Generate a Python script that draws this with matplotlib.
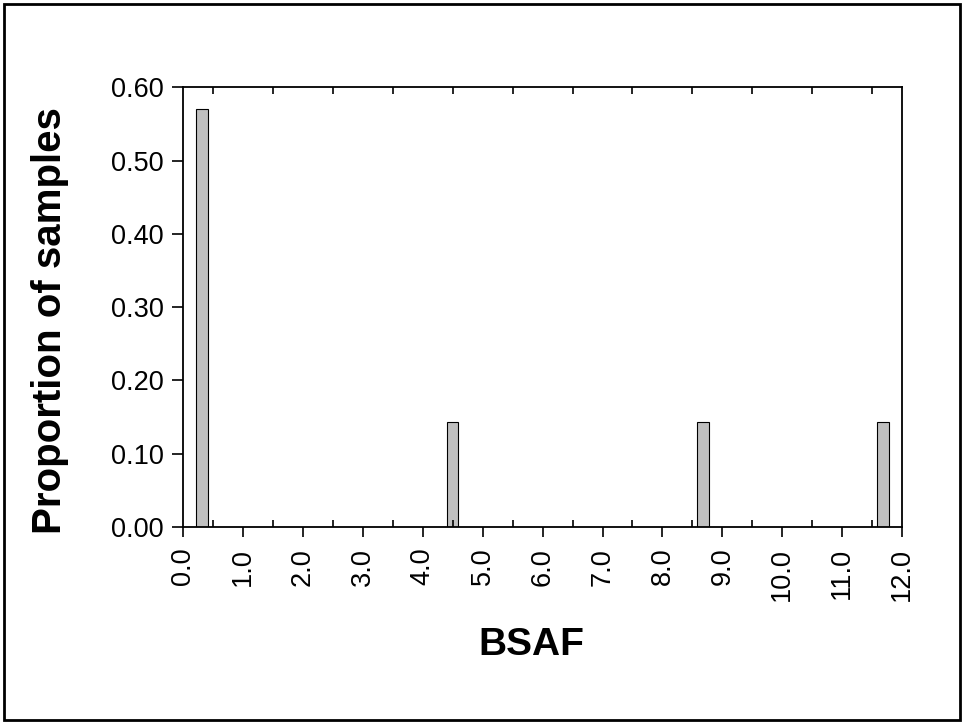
import matplotlib
matplotlib.use('Agg')
import matplotlib.pyplot as plt
from matplotlib.patches import Rectangle
from matplotlib.ticker import MultipleLocator, FormatStrFormatter

plt.rcParams['font.family'] = ['Liberation Sans', 'DejaVu Sans']

# histogram bars
bsaf_centers = [0.31, 4.49, 8.68, 11.68]
proportions = [0.571, 0.143, 0.143, 0.143]
bar_width = 0.19

x_ticks = [0.0, 1.0, 2.0, 3.0, 4.0, 5.0, 6.0, 7.0, 8.0, 9.0, 10.0, 11.0, 12.0]
y_ticks = [0.0, 0.1, 0.2, 0.3, 0.4, 0.5, 0.6]

fig = plt.figure(figsize=(9.63, 7.23), dpi=100)
fig.patch.set_facecolor('white')
ax = fig.add_axes([0.1903, 0.2711, 0.7464, 0.6079])

ax.bar(bsaf_centers, proportions, width=bar_width, color='#C0C0C0',
       edgecolor='black', linewidth=0.8)

ax.set_xlim(0, 12)
ax.set_ylim(0, 0.6)
ax.set_xticks(x_ticks)
ax.set_yticks(y_ticks)
ax.xaxis.set_minor_locator(MultipleLocator(0.5))
ax.xaxis.set_major_formatter(FormatStrFormatter('%.1f'))
ax.yaxis.set_major_formatter(FormatStrFormatter('%.2f'))

ax.tick_params(axis='x', which='major', direction='out', length=7, width=1.2,
               labelsize=19.5, labelrotation=90, pad=8, top=False)
ax.tick_params(axis='x', which='minor', direction='in', length=5, width=1.2,
               top=True, bottom=True)
ax.tick_params(axis='y', which='major', direction='out', length=8, width=1.2,
               labelsize=19.5, pad=6)

for s in ax.spines.values():
    s.set_linewidth(1.3)

fig.text(0.552, 0.108, 'BSAF', fontsize=28, fontweight='bold', ha='center', va='center')
fig.text(0.052, 0.557, 'Proportion of samples', fontsize=29, fontweight='bold',
         rotation=90, ha='center', va='center')

# outer frame
fig.patches.append(Rectangle((3.5 / 963, 3 / 723), 956 / 963, 716 / 723,
                             transform=fig.transFigure, fill=False,
                             edgecolor='black', linewidth=2.0))

fig.savefig('out.png', dpi=100, facecolor='white')
